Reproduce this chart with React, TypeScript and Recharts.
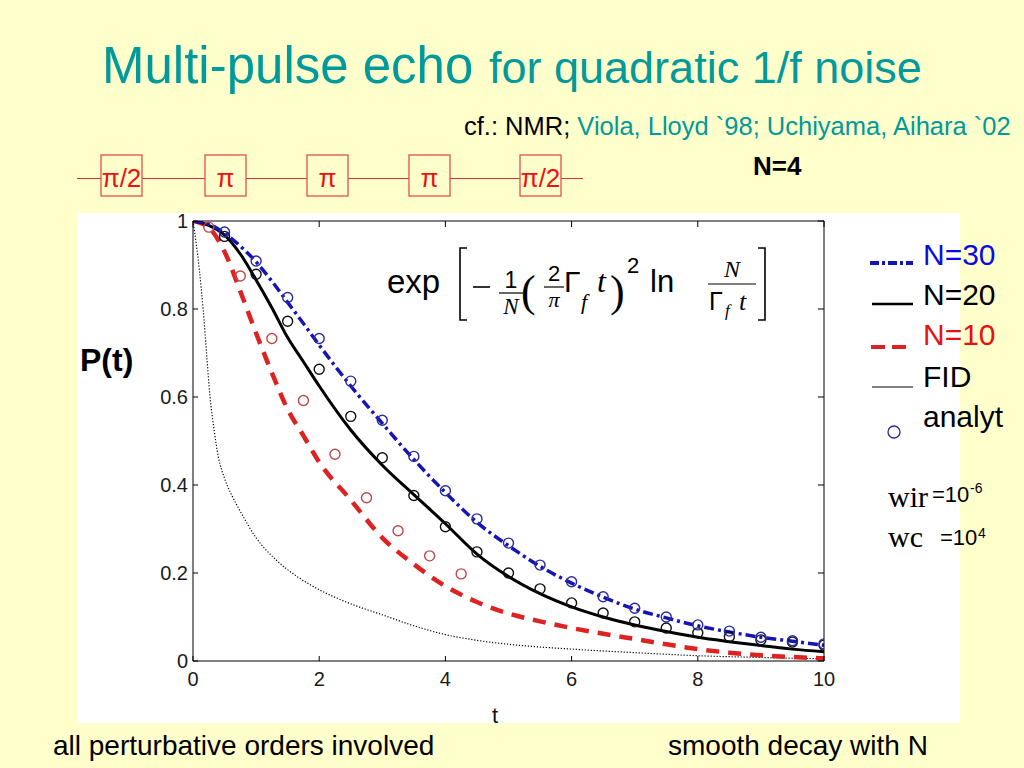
import React from 'react';
import { ComposedChart, Line, Scatter, XAxis, YAxis } from 'recharts';

const LINE_T = [0, 0.25, 0.5, 0.75, 1, 1.25, 1.5, 1.75, 2, 2.5, 3, 3.5, 4, 4.5, 5, 5.5, 6, 6.5, 7, 7.5, 8, 8.5, 9, 9.5, 10];
const N30_LINE = [1, 0.993, 0.972, 0.943, 0.907, 0.863, 0.815, 0.767, 0.718, 0.625, 0.54, 0.458, 0.383, 0.315, 0.262, 0.215, 0.177, 0.145, 0.118, 0.098, 0.08, 0.066, 0.054, 0.045, 0.036];
const N20_LINE = [1, 0.99, 0.968, 0.925, 0.866, 0.803, 0.735, 0.68, 0.625, 0.525, 0.445, 0.378, 0.312, 0.243, 0.192, 0.153, 0.123, 0.1, 0.082, 0.067, 0.054, 0.044, 0.035, 0.027, 0.021];
const N10_LINE = [1, 0.985, 0.93, 0.84, 0.745, 0.655, 0.572, 0.512, 0.452, 0.366, 0.28, 0.22, 0.17, 0.134, 0.108, 0.09, 0.075, 0.062, 0.05, 0.038, 0.027, 0.019, 0.013, 0.009, 0.006];

const FID_T = [0, 0.05, 0.1, 0.16, 0.22, 0.27, 0.33, 0.4, 0.5, 0.62, 0.75, 1, 1.33, 1.67, 2, 2.5, 3, 3.5, 4, 4.5, 5, 6, 7, 8, 9, 10];
const FID_LINE = [1, 0.95, 0.89, 0.8, 0.69, 0.6, 0.53, 0.465, 0.415, 0.375, 0.34, 0.28, 0.228, 0.19, 0.162, 0.13, 0.105, 0.08, 0.06, 0.047, 0.038, 0.027, 0.019, 0.012, 0.008, 0.005];

// analytic points (circles)
const CIRCLE_T = [0.5, 1, 1.5, 2, 2.5, 3, 3.5, 4, 4.5, 5, 5.5, 6, 6.5, 7, 7.5, 8, 8.5, 9, 9.5, 10];
const N30_ANALYT = [0.975, 0.909, 0.826, 0.733, 0.636, 0.547, 0.465, 0.387, 0.323, 0.268, 0.218, 0.18, 0.146, 0.12, 0.1, 0.082, 0.068, 0.054, 0.046, 0.039];
const N20_ANALYT = [0.965, 0.879, 0.772, 0.663, 0.556, 0.462, 0.376, 0.305, 0.248, 0.2, 0.164, 0.132, 0.109, 0.089, 0.075, 0.064, 0.055, 0.048, 0.043, 0.036];
const N10_T = [0.25, 0.75, 1.25, 1.75, 2.25, 2.75, 3.25, 3.75, 4.25];
const N10_ANALYT = [0.986, 0.875, 0.733, 0.592, 0.47, 0.371, 0.296, 0.239, 0.198];

const X_TICKS = [0, 2, 4, 6, 8, 10];
const Y_TICKS = [0, 0.2, 0.4, 0.6, 0.8, 1];
const PULSES = ['π/2', 'π', 'π', 'π', 'π/2'];

const pts = (t: number[], p: number[]) => t.map((x, i) => ({ t: x, p: p[i] }));

const SANS = "'Liberation Sans', Arial, sans-serif";
const SERIF = "'Liberation Serif', 'Times New Roman', serif";
const BG = '#FFFFCC';
const TEAL = '#009a9a';

const ring = (color: string) => (props: any) => (
  <circle cx={props.cx} cy={props.cy} r={5} fill="none" stroke={color} strokeWidth={1.4} />
);

function Slide() {
  const pulseX = [101, 205, 307, 409, 520];
  return (
    <svg width={1024} height={768} style={{ position: 'absolute', left: 0, top: 0 }}>
      <rect x={0} y={0} width={1024} height={768} fill={BG} />
      <rect x={78} y={213} width={882} height={510} fill="#ffffff" />

      {/* title */}
      <text x={102} y={83} fontFamily={SANS} fontSize={51} fill={TEAL}>Multi-pulse echo</text>
      <text x={489} y={83} fontFamily={SANS} fontSize={45} fill={TEAL}>for quadratic 1/f noise</text>
      <text x={464} y={135} fontFamily={SANS} fontSize={25.5} fill="#000">
        cf.: NMR; <tspan fill={TEAL}>Viola, Lloyd `98; Uchiyama, Aihara `02</tspan>
      </text>

      {/* pulse sequence */}
      <line x1={77} y1={178.5} x2={583} y2={178.5} stroke="#e03030" strokeWidth={1.2} />
      {PULSES.map((p, i) => (
        <g key={i}>
          <rect x={pulseX[i]} y={155} width={41} height={41} fill={BG} stroke="#e05050" strokeWidth={1.3} />
          <text x={pulseX[i] + 20.5} y={187} textAnchor="middle" fontFamily={SANS} fontSize={26} fill="#ee1111">{p}</text>
        </g>
      ))}
      <text x={753} y={175} fontFamily={SANS} fontSize={26} fontWeight="bold" fill="#000">N=4</text>

      {/* axis titles */}
      <text x={80} y={371} fontFamily={SANS} fontSize={32} fontWeight="bold" fill="#000">P(t)</text>
      <text x={492} y={723} fontFamily={SANS} fontSize={22} fill="#111">t</text>

      {/* formula */}
      <g fill="#000">
        <text x={387} y={293} fontFamily={SANS} fontSize={33}>exp</text>
        <path d="M467 248 H460 V320 H467" fill="none" stroke="#000" strokeWidth={1.6} />
        <line x1={473} y1={287} x2={490} y2={287} stroke="#000" strokeWidth={1.6} />
        <text x={511} y={288} textAnchor="middle" fontFamily={SANS} fontSize={23}>1</text>
        <line x1={499} y1={293} x2={523} y2={293} stroke="#000" strokeWidth={1.2} />
        <text x={511} y={314} textAnchor="middle" fontFamily={SERIF} fontStyle="italic" fontSize={23}>N</text>
        <text x={521} y={306} fontFamily={SERIF} fontSize={44}>(</text>
        <text x={554} y={281} textAnchor="middle" fontFamily={SANS} fontSize={22}>2</text>
        <line x1={544} y1={287} x2={564} y2={287} stroke="#000" strokeWidth={1.2} />
        <text x={554} y={307} textAnchor="middle" fontFamily={SERIF} fontStyle="italic" fontSize={22}>π</text>
        <text x={564} y={292} fontFamily={SANS} fontSize={30}>Γ</text>
        <text x={581} y={309} fontFamily={SERIF} fontStyle="italic" fontSize={22}>f</text>
        <text x={597} y={292} fontFamily={SERIF} fontStyle="italic" fontSize={32}>t</text>
        <text x={610} y={306} fontFamily={SERIF} fontSize={44}>)</text>
        <text x={627} y={273} fontFamily={SANS} fontSize={22}>2</text>
        <text x={650} y={292} fontFamily={SANS} fontSize={31}>ln</text>
        <text x={732} y={277} textAnchor="middle" fontFamily={SERIF} fontStyle="italic" fontSize={24}>N</text>
        <line x1={708} y1={284} x2={756} y2={284} stroke="#000" strokeWidth={1.2} />
        <text x={709} y={310} fontFamily={SANS} fontSize={25}>Γ</text>
        <text x={725} y={316} fontFamily={SERIF} fontStyle="italic" fontSize={17}>f</text>
        <text x={739} y={310} fontFamily={SERIF} fontStyle="italic" fontSize={26}>t</text>
        <path d="M758 248 H765 V320 H758" fill="none" stroke="#000" strokeWidth={1.6} />
      </g>

      {/* legend */}
      <line x1={870} y1={263} x2={913} y2={263} stroke="#1515b5" strokeWidth={4} strokeDasharray="9 3 3 3" />
      <line x1={872} y1={304} x2={913} y2={304} stroke="#000" strokeWidth={2.5} />
      <line x1={871} y1={347} x2={907} y2={347} stroke="#dd2222" strokeWidth={4} strokeDasharray="14 7" />
      <line x1={872} y1={387} x2={913} y2={387} stroke="#000" strokeWidth={1} />
      <circle cx={894} cy={432} r={6} fill="none" stroke="#2a2a90" strokeWidth={1.3} />
      <g fontFamily={SANS} fontSize={30}>
        <text x={923} y={265} fill="#0a0ae8">N=30</text>
        <text x={923} y={305} fill="#000">N=20</text>
        <text x={923} y={345} fill="#e81010">N=10</text>
        <text x={923} y={387} fill="#000">FID</text>
        <text x={923} y={427} fill="#000">analyt</text>
      </g>

      {/* cutoffs */}
      <text x={888} y={507} fontFamily={SERIF} fontSize={30} fill="#000">wir</text>
      <text x={932} y={502} fontFamily={SANS} fontSize={22} fill="#000">=10</text>
      <text x={970} y={493} fontFamily={SANS} fontSize={14} fill="#000">-6</text>
      <text x={888} y={547} fontFamily={SERIF} fontSize={30} fill="#000">wc</text>
      <text x={940} y={545} fontFamily={SANS} fontSize={22} fill="#000">=10</text>
      <text x={978} y={538} fontFamily={SANS} fontSize={14} fill="#000">4</text>

      {/* footnotes */}
      <text x={53} y={755} fontFamily={SANS} fontSize={28} fill="#000">all perturbative orders involved</text>
      <text x={668} y={755} fontFamily={SANS} fontSize={28} fill="#000">smooth decay with N</text>
    </svg>
  );
}

export default function App() {
  const tickStyle = { fill: '#1a1a1a', fontSize: 20, fontFamily: SANS };
  const blank = () => '';
  return (
    <div style={{ position: 'absolute', left: 0, top: 0, width: 1024, height: 768, overflow: 'hidden' }}>
      <Slide />
      <div style={{ position: 'absolute', left: 0, top: 0 }}>
        <ComposedChart width={1024} height={768} margin={{ top: 221, right: 200, bottom: 77, left: 153 }}>
          <XAxis xAxisId="b" dataKey="t" type="number" domain={[0, 10]} ticks={X_TICKS} allowDataOverflow
            height={30} tickSize={-5} tickMargin={16} tick={tickStyle} stroke="#000" />
          <XAxis xAxisId="top" dataKey="t" type="number" orientation="top" domain={[0, 10]} ticks={X_TICKS}
            allowDataOverflow height={1} mirror tickFormatter={blank} stroke="#000" />
          <YAxis yAxisId="l" type="number" domain={[0, 1]} ticks={Y_TICKS} allowDataOverflow
            width={40} tickSize={-5} tickMargin={10} tick={tickStyle} stroke="#000" />
          <YAxis yAxisId="r" type="number" orientation="right" domain={[0, 1]} ticks={Y_TICKS}
            allowDataOverflow width={1} mirror tickFormatter={blank} stroke="#000" />

          <Line xAxisId="top" yAxisId="r" data={pts(FID_T, FID_LINE)} dataKey="p" type="monotone" dot={false}
            stroke="#000" strokeWidth={1.2} strokeDasharray="1.2 1.8" isAnimationActive={false} />
          <Line xAxisId="b" yAxisId="l" data={pts(LINE_T, N10_LINE)} dataKey="p" type="monotone" dot={false}
            stroke="#dd2222" strokeWidth={4.5} strokeDasharray="13 9" isAnimationActive={false} />
          <Line xAxisId="b" yAxisId="l" data={pts(LINE_T, N20_LINE)} dataKey="p" type="monotone" dot={false}
            stroke="#000" strokeWidth={3} isAnimationActive={false} />
          <Line xAxisId="b" yAxisId="l" data={pts(LINE_T, N30_LINE)} dataKey="p" type="monotone" dot={false}
            stroke="#1515b5" strokeWidth={3.5} strokeDasharray="10 4 3 4" isAnimationActive={false} />

          <Scatter xAxisId="b" yAxisId="l" data={pts(N10_T, N10_ANALYT)} dataKey="p" shape={ring('#c04848')} isAnimationActive={false} />
          <Scatter xAxisId="b" yAxisId="l" data={pts(CIRCLE_T, N20_ANALYT)} dataKey="p" shape={ring('#111')} isAnimationActive={false} />
          <Scatter xAxisId="b" yAxisId="l" data={pts(CIRCLE_T, N30_ANALYT)} dataKey="p" shape={ring('#2a2aa0')} isAnimationActive={false} />
        </ComposedChart>
      </div>
    </div>
  );
}
